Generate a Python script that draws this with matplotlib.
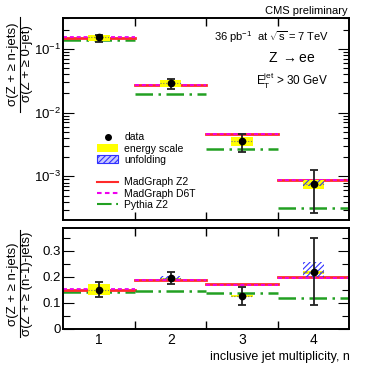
import numpy as np
import matplotlib
matplotlib.use("Agg")
import matplotlib.pyplot as plt
from matplotlib.patches import Rectangle
from matplotlib.lines import Line2D

plt.rcParams['font.family'] = ['Liberation Sans', 'DejaVu Sans']
plt.rcParams['mathtext.fontset'] = 'custom'
plt.rcParams['mathtext.rm'] = 'Liberation Sans'
plt.rcParams['mathtext.it'] = 'Liberation Sans:italic'
plt.rcParams['mathtext.default'] = 'regular'
plt.rcParams['hatch.color'] = '#3030ff'
plt.rcParams['hatch.linewidth'] = 0.8

# -----------------------------------------
# DATA
# -----------------------------------------
n_jets = [1, 2, 3, 4]

# top panel: sigma(Z + >= n jets) / sigma(Z + >= 0 jet)
top_data = [0.151, 0.0288, 0.00356, 0.00077]
top_err_lo = [0.129, 0.0235, 0.00241, 0.00027]
top_err_hi = [0.168, 0.0333, 0.0047, 0.00128]
top_escale_lo = [0.131, 0.0252, 0.0030, 0.00063]
top_escale_hi = [0.166, 0.032, 0.0042, 0.00088]
top_unf_lo = [None, None, None, 0.00071]
top_unf_hi = [None, None, None, 0.00088]
top_mg_z2 = [0.147, 0.0271, 0.00458, 0.00087]
top_mg_d6t = [0.152, 0.0276, 0.00463, 0.00089]
top_py_z2 = [0.139, 0.0198, 0.00266, 0.000316]

# bottom panel: sigma(Z + >= n jets) / sigma(Z + >= (n-1) jets)
bot_data = [0.150, 0.194, 0.126, 0.216]
bot_err_lo = [0.1226, 0.172, 0.092, 0.093]
bot_err_hi = [0.180, 0.218, 0.162, 0.347]
bot_escale_lo = [0.131, 0.190, 0.122, 0.210]
bot_escale_hi = [0.170, 0.195, 0.130, 0.220]
bot_unf_lo = [None, 0.190, None, 0.198]
bot_unf_hi = [None, 0.203, None, 0.258]
bot_mg_z2 = [0.148, 0.1866, 0.172, 0.200]
bot_mg_d6t = [0.152, 0.188, 0.168, 0.193]
bot_py_z2 = [0.1406, 0.143, 0.139, 0.119]

tick_labels = ['1', '2', '3', '4']

RED = '#ff2a2a'
MAG = '#ee00ee'
GRN = '#22a022'
YEL = '#ffff00'
HBLUE = '#3030ff'
BOX_HW = 0.15

style_py = (0, (7, 2.2, 1, 2.2))
style_d6t = (0, (2.2, 1.6))


def draw_panel(ax, data, elo, ehi, slo, shi, ulo, uhi, mgz2, mgd6t, pyz2):
    for i, n in enumerate(n_jets):
        x0, x1 = n - 0.5, n + 0.5
        ax.plot([x0, x1], [pyz2[i]] * 2, color=GRN, lw=1.8, ls=style_py, zorder=2)
        ax.plot([x0, x1], [mgz2[i]] * 2, color=RED, lw=2.0, zorder=2)
        ax.plot([x0, x1], [mgd6t[i]] * 2, color=MAG, lw=1.3, ls=style_d6t, zorder=2)
        ax.add_patch(Rectangle((n - BOX_HW, slo[i]), 2 * BOX_HW, shi[i] - slo[i],
                               facecolor=YEL, edgecolor='none', zorder=3))
        if ulo[i] is not None:
            ax.add_patch(Rectangle((n - BOX_HW, ulo[i]), 2 * BOX_HW, uhi[i] - ulo[i],
                                   facecolor='none', edgecolor=HBLUE, lw=0,
                                   hatch='//////', zorder=4))
        ax.plot([n - BOX_HW, n + BOX_HW], [data[i]] * 2, color='#777777', lw=0.8,
                ls=(0, (1, 1.5)), zorder=4)
    yerr = [np.array(data) - np.array(elo), np.array(ehi) - np.array(data)]
    ax.errorbar(n_jets, data, yerr=yerr, fmt='o', color='black', ms=4.5,
                elinewidth=1.3, ecolor='#222222', capsize=3, capthick=1.3, zorder=5)
    ax.set_xlim(0.5, 4.5)
    ax.set_xticks([1.5, 2.5, 3.5])
    ax.set_xticks(n_jets, minor=True)
    ax.set_xticklabels(tick_labels, minor=True)
    ax.tick_params(axis='x', which='major', direction='in', length=6, width=1,
                   top=True, labelbottom=False)
    ax.tick_params(axis='x', which='minor', length=0, labelsize=10, pad=3)
    ax.tick_params(axis='y', which='both', direction='in', right=True, width=0.8)
    ax.tick_params(axis='y', which='major', length=8, labelsize=9.5, pad=2)
    ax.tick_params(axis='y', which='minor', length=4)
    for s in ax.spines.values():
        s.set_linewidth(1.4)


fig = plt.figure(figsize=(3.71, 3.69), dpi=100)
W, H = 371.0, 369.0
ax1 = fig.add_axes([0.171, 0.405, 0.771, 0.545])
ax2 = fig.add_axes([0.171, 0.109, 0.771, 0.272])

ax1.set_yscale('log')
draw_panel(ax1, top_data, top_err_lo, top_err_hi, top_escale_lo, top_escale_hi,
           top_unf_lo, top_unf_hi, top_mg_z2, top_mg_d6t, top_py_z2)
ax1.set_ylim(2.1e-4, 0.30)
ax1.tick_params(axis='x', which='minor', labelbottom=False)

draw_panel(ax2, bot_data, bot_err_lo, bot_err_hi, bot_escale_lo, bot_escale_hi,
           bot_unf_lo, bot_unf_hi, bot_mg_z2, bot_mg_d6t, bot_py_z2)
ax2.set_ylim(0, 0.385)
ax2.set_yticks([0, 0.1, 0.2, 0.3])
ax2.set_yticklabels(['0', '0.1', '0.2', '0.3'])
ax2.set_yticks(np.arange(0.05, 0.38, 0.05), minor=True)
ax2.tick_params(axis='y', which='minor', length=5)


def frac_label(xn, xd, xl, yc, num, den, y0, y1):
    # vertical fraction: numerator left, denominator right, bar between
    fig.text(xn / W, 1 - yc / H, num, rotation=90, fontsize=9.5, ha='center', va='center')
    fig.text(xd / W, 1 - yc / H, den, rotation=90, fontsize=9.5, ha='center', va='center')
    fig.add_artist(Line2D([xl / W, xl / W], [1 - y0 / H, 1 - y1 / H], color='black', lw=0.8))


frac_label(13, 27, 20, 64, r'σ(Z + ≥ n-jets)', r'σ(Z + ≥ 0-jet)', 17, 112)
frac_label(13, 27, 20, 284, r'σ(Z + ≥ n-jets)', r'σ(Z + ≥ (n-1)-jets)', 230, 337)

ax2.set_xlabel('inclusive jet multiplicity, n', fontsize=9, loc='right', labelpad=3)

# annotations
fig.text(0.938, 0.97, 'CMS preliminary', fontsize=8, ha='right', va='center')
ax1.text(0.93, 0.905, r'36 pb$^{-1}$  at $\sqrt{s}$ = 7 TeV', fontsize=8,
         ha='right', va='center', transform=ax1.transAxes)
ax1.text(0.80, 0.805, r'Z $\rightarrow$ee', fontsize=10, ha='center', va='center',
         transform=ax1.transAxes)
ax1.text(0.80, 0.69, r'E$_{T}^{jet}$ > 30 GeV', fontsize=8.5, ha='center', va='center',
         transform=ax1.transAxes)

# legend
handles = [
    Line2D([], [], marker='o', color='black', ls='none', ms=4),
    Rectangle((0, 0), 1, 1, facecolor=YEL, edgecolor='none'),
    Rectangle((0, 0), 1, 1, facecolor='#c8c8ff', edgecolor=HBLUE, hatch='//////', lw=0.8),
    Line2D([], [], color='none'),
    Line2D([], [], color=RED, lw=1.5),
    Line2D([], [], color=MAG, lw=1.5, ls=style_d6t),
    Line2D([], [], color=GRN, lw=1.5, ls=style_py),
]
labels = ['data', 'energy scale', 'unfolding', '', 'MadGraph Z2', 'MadGraph D6T', 'Pythia Z2']
ax1.legend(handles, labels, loc='upper left', bbox_to_anchor=(0.1, 0.46), frameon=False,
           fontsize=7.5, handlelength=2.0, handleheight=0.7, labelspacing=0.12,
           handletextpad=0.6, borderpad=0)

fig.savefig('out.png', dpi=100)
